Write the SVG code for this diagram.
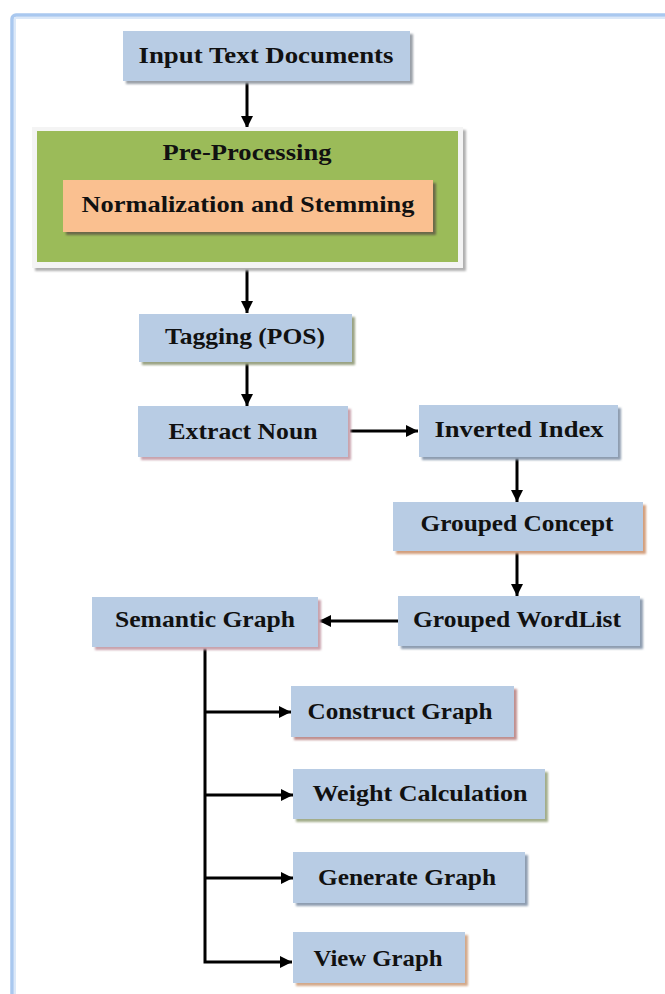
<svg xmlns="http://www.w3.org/2000/svg" width="665" height="994" viewBox="0 0 665 994">
<defs>
<style>
.box{fill:#b8cce4}
.lbl{font-family:"Liberation Serif","Times New Roman",serif;font-weight:bold;font-size:24px;fill:#111;text-anchor:middle;dominant-baseline:central}
.conn{stroke:#000;stroke-width:3;fill:none}
</style>
<marker id="ah" viewBox="0 0 10 10" refX="10" refY="5" markerWidth="12" markerHeight="12" markerUnits="userSpaceOnUse" orient="auto">
<path d="M0,0 L10,5 L0,10 z" fill="#000"/>
</marker>
<filter id="blur" x="-5%" y="-20%" width="110%" height="140%"><feGaussianBlur stdDeviation="0.8"/></filter>
</defs>
<rect x="0" y="0" width="665" height="994" fill="#fff"/>
<rect x="12" y="15" width="680" height="1000" rx="4" fill="none" stroke="#a9c8ef" stroke-width="3.5"/>
<rect x="15" y="18" width="680" height="1000" fill="none" stroke="#dbe8f8" stroke-width="2"/>

<g id="connectors">
<line class="conn" x1="247" y1="82" x2="247" y2="128" marker-end="url(#ah)"/>
<line class="conn" x1="247" y1="268" x2="247" y2="313" marker-end="url(#ah)"/>
<line class="conn" x1="247" y1="362" x2="247" y2="406" marker-end="url(#ah)"/>
<line class="conn" x1="350" y1="431" x2="418" y2="431" marker-end="url(#ah)"/>
<line class="conn" x1="517" y1="457" x2="517" y2="502" marker-end="url(#ah)"/>
<line class="conn" x1="517" y1="552" x2="517" y2="596" marker-end="url(#ah)"/>
<line class="conn" x1="398" y1="621" x2="319" y2="621" marker-end="url(#ah)"/>
<polyline class="conn" points="205,647 205,962 292,962" marker-end="url(#ah)"/>
<line class="conn" x1="205" y1="712" x2="291" y2="712" marker-end="url(#ah)"/>
<line class="conn" x1="205" y1="795" x2="293" y2="795" marker-end="url(#ah)"/>
<line class="conn" x1="205" y1="878" x2="293" y2="878" marker-end="url(#ah)"/>
</g>

<g id="input-text-documents">
<rect x="126" y="34" width="287" height="50" fill="#9aa0a8" filter="url(#blur)"/>
<rect class="box" x="123" y="31" width="287" height="50"/>
<text class="lbl" x="266" y="55" textLength="255" lengthAdjust="spacingAndGlyphs">Input Text Documents</text>
</g>

<g id="pre-processing">
<rect x="35" y="130" width="431" height="141" fill="#b0b0b0" filter="url(#blur)"/>
<rect x="32" y="127" width="431" height="141" fill="#f4f4f4"/>
<rect x="37" y="131" width="421" height="131" fill="#9bbb59"/>
<text class="lbl" x="247" y="152" textLength="169" lengthAdjust="spacingAndGlyphs">Pre-Processing</text>
<g id="normalization-stemming">
<rect x="66" y="183" width="370" height="52" fill="#6a6a4a" filter="url(#blur)"/>
<rect x="63" y="180" width="370" height="52" fill="#fac090"/>
<text class="lbl" x="248" y="204" textLength="333" lengthAdjust="spacingAndGlyphs">Normalization and Stemming</text>
</g>
</g>

<g id="tagging-pos">
<rect x="142" y="317" width="213" height="48" fill="#9aa383" filter="url(#blur)"/>
<rect class="box" x="139" y="314" width="213" height="48"/>
<text class="lbl" x="245" y="336" textLength="160" lengthAdjust="spacingAndGlyphs">Tagging (POS)</text>
</g>

<g id="extract-noun">
<rect x="141" y="409" width="210" height="51" fill="#c9a3ad" filter="url(#blur)"/>
<rect class="box" x="138" y="406" width="210" height="51"/>
<text class="lbl" x="243" y="431" textLength="149" lengthAdjust="spacingAndGlyphs">Extract Noun</text>
</g>

<g id="inverted-index">
<rect x="422" y="408" width="199" height="52" fill="#8e9db0" filter="url(#blur)"/>
<rect class="box" x="419" y="405" width="199" height="52"/>
<text class="lbl" x="519" y="429" textLength="169" lengthAdjust="spacingAndGlyphs">Inverted Index</text>
</g>

<g id="grouped-concept">
<rect x="396" y="505" width="250" height="49" fill="#d39f7d" filter="url(#blur)"/>
<rect class="box" x="393" y="502" width="250" height="49"/>
<text class="lbl" x="517" y="523" textLength="193" lengthAdjust="spacingAndGlyphs">Grouped Concept</text>
</g>

<g id="grouped-wordlist">
<rect x="401" y="599" width="242" height="50" fill="#8e9db0" filter="url(#blur)"/>
<rect class="box" x="398" y="596" width="242" height="50"/>
<text class="lbl" x="517" y="619" textLength="208" lengthAdjust="spacingAndGlyphs">Grouped WordList</text>
</g>

<g id="semantic-graph">
<rect x="95" y="600" width="226" height="50" fill="#c9a3ad" filter="url(#blur)"/>
<rect class="box" x="92" y="597" width="226" height="50"/>
<text class="lbl" x="205" y="619" textLength="180" lengthAdjust="spacingAndGlyphs">Semantic Graph</text>
</g>

<g id="construct-graph">
<rect x="294" y="689" width="223" height="51" fill="#c09090" filter="url(#blur)"/>
<rect class="box" x="291" y="686" width="223" height="51"/>
<text class="lbl" x="400" y="711" textLength="185" lengthAdjust="spacingAndGlyphs">Construct Graph</text>
</g>

<g id="weight-calculation">
<rect x="296" y="772" width="252" height="50" fill="#a3ad8a" filter="url(#blur)"/>
<rect class="box" x="293" y="769" width="252" height="50"/>
<text class="lbl" x="420" y="793" textLength="215" lengthAdjust="spacingAndGlyphs">Weight Calculation</text>
</g>

<g id="generate-graph">
<rect x="296" y="855" width="232" height="51" fill="#8e9db0" filter="url(#blur)"/>
<rect class="box" x="293" y="852" width="232" height="51"/>
<text class="lbl" x="407" y="877" textLength="178" lengthAdjust="spacingAndGlyphs">Generate Graph</text>
</g>

<g id="view-graph">
<rect x="296" y="935" width="172" height="51" fill="#d3a98a" filter="url(#blur)"/>
<rect class="box" x="293" y="932" width="172" height="51"/>
<text class="lbl" x="378" y="958" textLength="129" lengthAdjust="spacingAndGlyphs">View Graph</text>
</g>
</svg>
